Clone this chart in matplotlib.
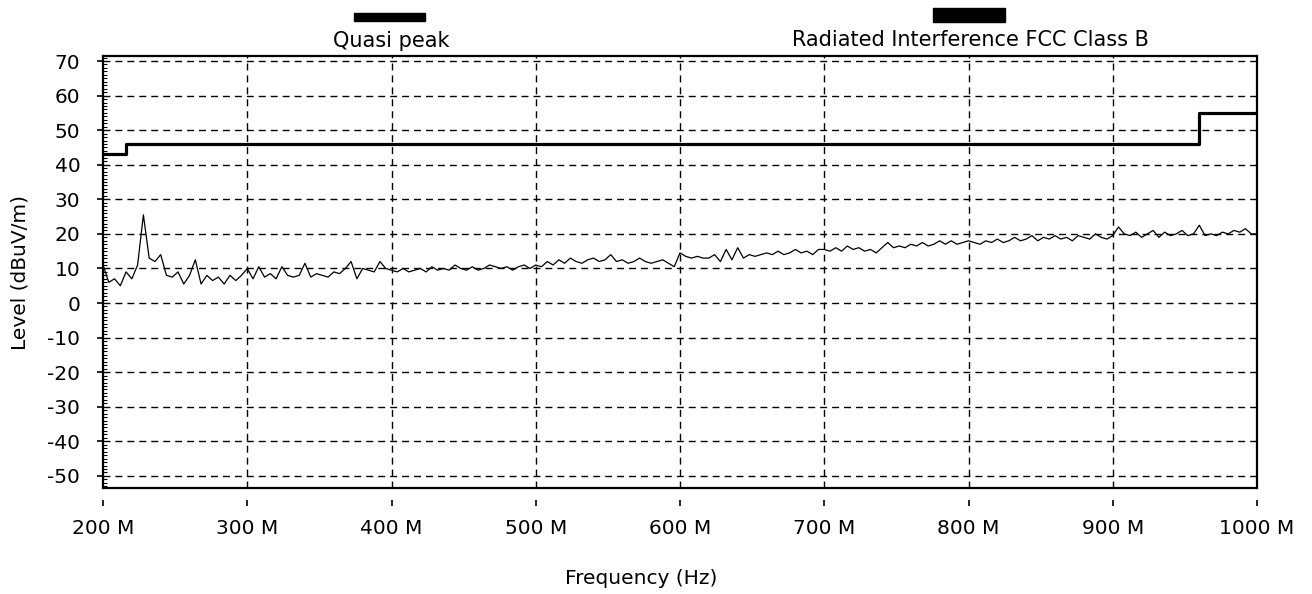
import matplotlib
matplotlib.use('Agg')
import matplotlib.pyplot as plt
from matplotlib.patches import Rectangle
from matplotlib.ticker import MultipleLocator
import numpy as np

# measured trace, one point every 4 MHz from 200 to 1000 MHz
freq_mhz = np.arange(200, 1001, 4)
level = [
    11, 6, 7, 5, 9, 7, 11, 25.5, 13, 12, 14, 8, 7.5, 9, 5.5, 8, 12.5, 5.5, 8, 6.5, 7.5, 5.5, 8, 6.5, 8,
    10, 7, 10.5, 7.5, 8.5, 7, 10.5, 8, 7.5, 8, 11.5, 7.5, 8.5, 8, 7.5, 9, 8.5, 10, 12, 7, 10, 9.5, 9, 12, 10,
    9.5, 9, 10, 9, 9.5, 10, 9, 10.5, 9.5, 10, 9.5, 11, 10, 9.5, 10.5, 9.5, 10, 11, 10.5, 10, 10.5, 9.5, 10.5, 11, 10,
    11, 10.5, 12, 11, 12.5, 11.5, 13, 12, 11.5, 12.5, 13, 12, 12.5, 14, 12, 12.5, 11.5, 12, 13, 12, 11.5, 12, 12.5, 11.5, 10.5,
    14.5, 13.5, 13, 13.5, 13, 13, 14, 12, 15.5, 12.5, 16, 13, 14, 13.5, 14, 14.5, 14, 15, 14, 14.5, 15.5, 14.5, 15, 14, 15.5,
    15.5, 15, 16, 15, 16.5, 15.5, 16, 15, 15.5, 14.5, 16, 17.5, 16, 16.5, 16, 17, 16.5, 17.5, 16.5, 17, 18, 17, 18, 17, 17.5,
    18, 17.5, 17, 18, 17.5, 18.5, 17.5, 18, 19, 18, 18.5, 19.5, 18, 19, 18.5, 19.5, 18.5, 19, 18, 19.5, 19, 18.5, 20, 19, 18.5,
    19.5, 22, 20, 19.5, 20.5, 19, 20, 21, 19, 20.5, 19.5, 20, 21, 19.5, 20, 22.5, 19.5, 20, 19.5, 20.5, 20, 21, 20.5, 21.5, 20,
    20,
]

# FCC class B limit (step line)
limit_freq = [200, 216, 216, 960, 960, 1000]
limit_level = [43, 43, 46, 46, 55, 55]

xticks = [200, 300, 400, 500, 600, 700, 800, 900, 1000]
xtick_labels = ['200 M', '300 M', '400 M', '500 M', '600 M', '700 M', '800 M', '900 M', '1000 M']
yticks = [70, 60, 50, 40, 30, 20, 10, 0, -10, -20, -30, -40, -50]

plt.rcParams['font.family'] = ['DejaVu Sans']
plt.rcParams['axes.unicode_minus'] = False
fs = 14.5

fig = plt.figure(figsize=(13.12, 5.94), dpi=100)
ax = fig.add_axes([103 / 1312, 1 - 488 / 594, 1154 / 1312, 432 / 594])

ax.plot(limit_freq, limit_level, color='black', lw=2.3)
ax.plot(freq_mhz, level, color='black', lw=0.9)

ax.set_xlim(200, 1000)
ax.set_ylim(-53.5, 71.45)

ax.set_yticks(yticks)
ax.yaxis.set_minor_locator(MultipleLocator(1))
ax.tick_params(axis='y', which='major', direction='out', length=4.3, width=1.2,
               pad=12, labelsize=fs)
ax.tick_params(axis='y', which='minor', direction='in', length=3, width=0.8)
ax.set_xticks(xticks)
ax.tick_params(axis='x', which='both', length=0, labelbottom=False)

for s in ax.spines.values():
    s.set_linewidth(1.6)

gstyle = dict(color='black', lw=1.0, linestyle=(0, (5, 3.6)))
for y in yticks:
    ax.axhline(y, zorder=0, **gstyle)
for x in xticks[1:-1]:
    ax.axvline(x, zorder=0, **gstyle)

# x tick marks sit a little below the frame
sec = ax.secondary_xaxis(-0.028)
sec.spines['bottom'].set_visible(False)
sec.set_xticks(xticks)
sec.set_xticklabels(xtick_labels)
sec.tick_params(axis='x', direction='out', length=4.3, width=1.2, pad=9, labelsize=fs)

fig.text(641 / 1312, 1 - 578 / 594, 'Frequency (Hz)', ha='center', va='center', fontsize=fs)
fig.text(20 / 1312, 1 - 272 / 594, 'Level (dBuV/m)', ha='center', va='center',
         rotation=90, fontsize=fs)

# legend bars and text above the plot
fig.patches.append(Rectangle((354 / 1312, 1 - 21 / 594), 71 / 1312, 8 / 594,
                             transform=fig.transFigure, color='black'))
fig.patches.append(Rectangle((933 / 1312, 1 - 22 / 594), 72 / 1312, 14 / 594,
                             transform=fig.transFigure, color='black'))
fig.text(391 / 1312, 1 - 41 / 594, 'Quasi peak', ha='center', va='center', fontsize=15)
fig.text(970 / 1312, 1 - 40 / 594, 'Radiated Interference FCC Class B', ha='center',
         va='center', fontsize=15)

fig.savefig('out.png', dpi=100)
